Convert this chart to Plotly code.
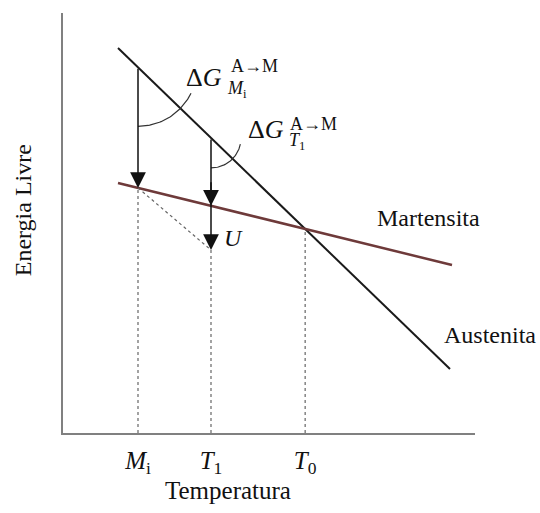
import numpy as np
import plotly.graph_objects as go

# Free-energy curves (arbitrary units) vs temperature
aust_T = [55, 387]
aust_G = [385, 64]
mart_T = [55, 389]
mart_G = [250, 168]

# Characteristic temperatures
T_Mi = 75
T_1 = 148
G_U = 183          # energy reached at T1 (point U)

tick_text = ["<i>M</i><sub>i</sub>", "<i>T</i><sub>1</sub>", "<i>T</i><sub>0</sub>"]


def line_at(T, xs, ys):
    return float(np.interp(T, xs, ys))


# T0: intersection of the two straight lines
bA = (aust_G[1] - aust_G[0]) / (aust_T[1] - aust_T[0])
bM = (mart_G[1] - mart_G[0]) / (mart_T[1] - mart_T[0])
aA = aust_G[0] - bA * aust_T[0]
aM = mart_G[0] - bM * mart_T[0]
T_0 = (aM - aA) / (bA - bM)
G_0 = aA + bA * T_0

GA_Mi = line_at(T_Mi, aust_T, aust_G)
GM_Mi = line_at(T_Mi, mart_T, mart_G)
GA_1 = line_at(T_1, aust_T, aust_G)
GM_1 = line_at(T_1, mart_T, mart_G)

SERIF = "Liberation Serif"
INK = "#111111"
fig = go.Figure()

# Austenite and martensite lines
fig.add_trace(go.Scatter(x=aust_T, y=aust_G, mode="lines",
                         line=dict(color="#1a1a1a", width=2), hoverinfo="skip"))
fig.add_trace(go.Scatter(x=mart_T, y=mart_G, mode="lines",
                         line=dict(color="#6e3a3a", width=2.5), hoverinfo="skip"))

# Dotted guides down to the temperature axis
dot = dict(color="#666666", width=1.2, dash="3px,3px")
for T, G in [(T_Mi, GM_Mi), (T_1, G_U), (T_0, G_0)]:
    fig.add_trace(go.Scatter(x=[T, T], y=[0, G], mode="lines", line=dot, hoverinfo="skip"))
fig.add_trace(go.Scatter(x=[T_Mi, T_1], y=[GM_Mi, G_U], mode="lines", line=dot, hoverinfo="skip"))

# Angle arcs marking the driving forces
def arc(cx, cy, r, a0, a1):
    th = np.radians(np.linspace(a0, a1, 40))
    return cx + r * np.cos(th), cy + r * np.sin(th)

for cx, cy, r, a1 in [(T_Mi, GA_Mi, 59, -26), (T_1, GA_1, 30, -12)]:
    ax_, ay_ = arc(cx, cy, r, -90, a1)
    fig.add_trace(go.Scatter(x=ax_, y=ay_, mode="lines",
                             line=dict(color="#333333", width=1.2), hoverinfo="skip"))

# Arrows
def arrow(x, y, x0, y0):
    fig.add_annotation(x=x, y=y, ax=x0, ay=y0, xref="x", yref="y", axref="x", ayref="y",
                       showarrow=True, arrowhead=2, arrowsize=2.1, arrowwidth=1.5,
                       arrowcolor=INK, standoff=0, text="")

arrow(T_Mi, GM_Mi, T_Mi, GA_Mi)
arrow(T_1, G_U, T_1, GA_1)
arrow(T_1, GM_1, T_1, GM_1 + 25)


def label(x, y, text, size, ref="x", angle=0):
    fig.add_annotation(x=x, y=y, xref=ref, yref="y" if ref == "x" else "paper",
                       xanchor="center", yanchor="middle", textangle=angle,
                       text=text, showarrow=False,
                       font=dict(family=SERIF, size=size, color=INK))

# Driving-force labels (symbol, superscript, subscript)
label(141, 356, "Δ<i>G</i>", 26)
label(191, 367, "A→M", 18)
label(174, 344, "<i>M</i><sub>i</sub>", 18)
label(203, 304, "Δ<i>G</i>", 26)
label(250, 309, "A→M", 18)
label(234, 292, "<i>T</i><sub>1</sub>", 18)
label(170, 195, "<i>U</i>", 24)
label(365, 215, "Martensita", 24)
label(1.036, 98 / 420, "Austenita", 24, ref="paper")
label(-0.095, 0.53, "Energia Livre", 24, ref="paper", angle=-90)
label(0.40, -0.136, "Temperatura", 25, ref="paper")

fig.update_layout(
    width=540, height=513,
    margin=dict(l=63, r=65, t=13, b=80),
    paper_bgcolor="white", plot_bgcolor="white",
    showlegend=False,
    xaxis=dict(range=[0, 412], showgrid=False, zeroline=False, showline=True,
               linecolor="#808080", linewidth=2, ticks="",
               tickvals=[T_Mi, T_1, T_0], ticktext=tick_text,
               tickfont=dict(family=SERIF, size=25, color=INK),
               ticklabelstandoff=4),
    yaxis=dict(range=[0, 420], showgrid=False, zeroline=False, showline=True,
               linecolor="#808080", linewidth=2, showticklabels=False, ticks=""),
)

fig.write_html("out.html")
